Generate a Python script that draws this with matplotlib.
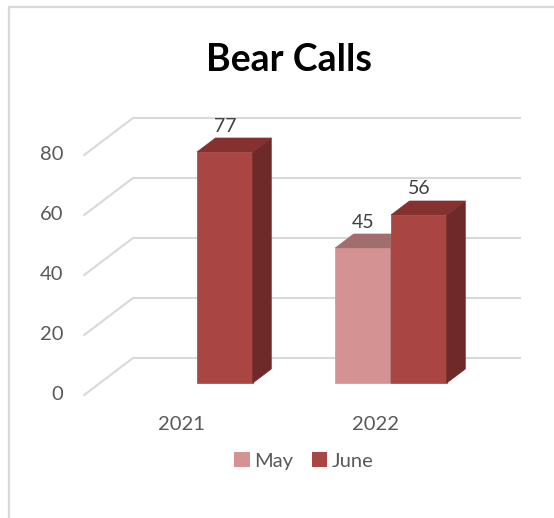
import numpy as np
import matplotlib
matplotlib.use("Agg")
import matplotlib.pyplot as plt
from matplotlib.patches import Polygon, Patch, Rectangle
from matplotlib.lines import Line2D
from matplotlib.transforms import IdentityTransform, offset_copy

# ---- data ----
categories = ["2021", "2022"]
series_names = ["May", "June"]
may_values = [np.nan, 45]
june_values = [77, 56]
y_ticks = [0, 20, 40, 60, 80]
title = "Bear Calls"

# ---- style ----
FONT = "Lato"
front_colors = {"May": "#D49292", "June": "#A94542"}
top_colors = {"May": "#A26E6D", "June": "#85312F"}
side_colors = {"May": "#8A5959", "June": "#6D2A28"}
grid_color = "#D9D9D9"
text_color = "#595959"

DPI = 100
W, H = 554, 518
fig = plt.figure(figsize=(W / DPI, H / DPI), dpi=DPI)
fig.patch.set_facecolor("white")

# chart-area border
fig.add_artist(Rectangle((9 / W, -0.1), 1.2, 1 - 7 / H + 0.1,
                         transform=fig.transFigure, fill=False,
                         edgecolor=grid_color, linewidth=1.6))

# front plane of the bars
ax = fig.add_axes([100 / W, 1 - 383 / H, 388 / W, 240 / H])
ax.set_xlim(-0.5, len(categories) - 0.5)
ax.set_ylim(0, 80)
ax.set_autoscale_on(False)
ax.axis("off")

# depth direction in pixels (x per unit of y-rise)
DEPTH = np.array([1.32, 1.0])
D_FLOOR = -12   # front edge of floor / side wall
D_BAR = 14      # bar depth
D_WALL = 25     # back wall


def P(x, v, d):
    return ax.transData.transform((x, v)) + d * DEPTH


# back-wall gridlines
back = offset_copy(ax.transData, fig=fig, x=D_WALL * DEPTH[0], y=D_WALL * DEPTH[1], units="dots")
ax.hlines(y_ticks, -0.5, len(categories) - 0.5, colors=grid_color, linewidth=1.5,
          transform=back, clip_on=False, zorder=1)
# side-wall gridlines
for v in y_ticks:
    a = P(-0.5, v, D_FLOOR)
    b = P(-0.5, v, D_WALL)
    ax.add_line(Line2D([a[0], b[0]], [a[1], b[1]], color=grid_color, linewidth=1.5,
                       transform=IdentityTransform(), clip_on=False, zorder=1))

# value-axis labels
ylab = offset_copy(ax.transData, fig=fig, x=D_FLOOR * DEPTH[0] - 21, y=D_FLOOR * DEPTH[1], units="dots")
for v in y_ticks:
    ax.text(-0.5, v, str(v), transform=ylab, ha="right", va="center",
            fontsize=14.5, color=text_color, family=FONT, clip_on=False)

# category labels
xlab = offset_copy(ax.transData, fig=fig, x=D_FLOOR * DEPTH[0], y=D_FLOOR * DEPTH[1] - 30, units="dots")
for i, c in enumerate(categories):
    ax.text(i, 0, c, transform=xlab, ha="center", va="center",
            fontsize=14.5, color=text_color, family=FONT, clip_on=False)

bar_w = 0.2876


def draw_bar(x0, x1, v, name, z):
    bl, br, tl, tr = P(x0, 0, 0), P(x1, 0, 0), P(x0, v, 0), P(x1, v, 0)
    d = D_BAR * DEPTH
    faces = [
        ([bl, br, tr, tl], front_colors[name]),
        ([br, br + d, tr + d, tr], side_colors[name]),
        ([tl, tr, tr + d, tl + d], top_colors[name]),
    ]
    for verts, col in faces:
        ax.add_patch(Polygon(verts, closed=True, facecolor=col, edgecolor=col,
                             linewidth=0.5, transform=IdentityTransform(),
                             clip_on=False, zorder=z))


z = 3
for i in range(len(categories)):
    for name, vals, x0 in (("May", may_values, i - bar_w), ("June", june_values, i)):
        v = vals[i]
        if np.isnan(v):
            continue
        draw_bar(x0, x0 + bar_w, v, name, z)
        z += 1
        ax.annotate(f"{v:g}", (x0 + bar_w / 2, v), xytext=(0, 26),
                    textcoords="offset pixels", ha="center", va="center",
                    fontsize=14, color="#404040", family=FONT,
                    annotation_clip=False, zorder=20)

# title
fig.text(289 / W, 1 - 60 / H, title, ha="center", va="center",
         fontsize=27, fontweight="bold", color="#000000", family=FONT)

# legend
handles = [Patch(facecolor=front_colors[n], edgecolor="none") for n in series_names]
leg = fig.legend(handles, series_names, loc="center", bbox_to_anchor=(304 / W, 1 - 461 / H),
                 ncol=2, frameon=False, handlelength=0.75, handleheight=0.75,
                 handletextpad=0.25, columnspacing=0.9,
                 prop={"family": FONT, "size": 14.5})
for t in leg.get_texts():
    t.set_color(text_color)

fig.savefig("out.png", dpi=DPI)
